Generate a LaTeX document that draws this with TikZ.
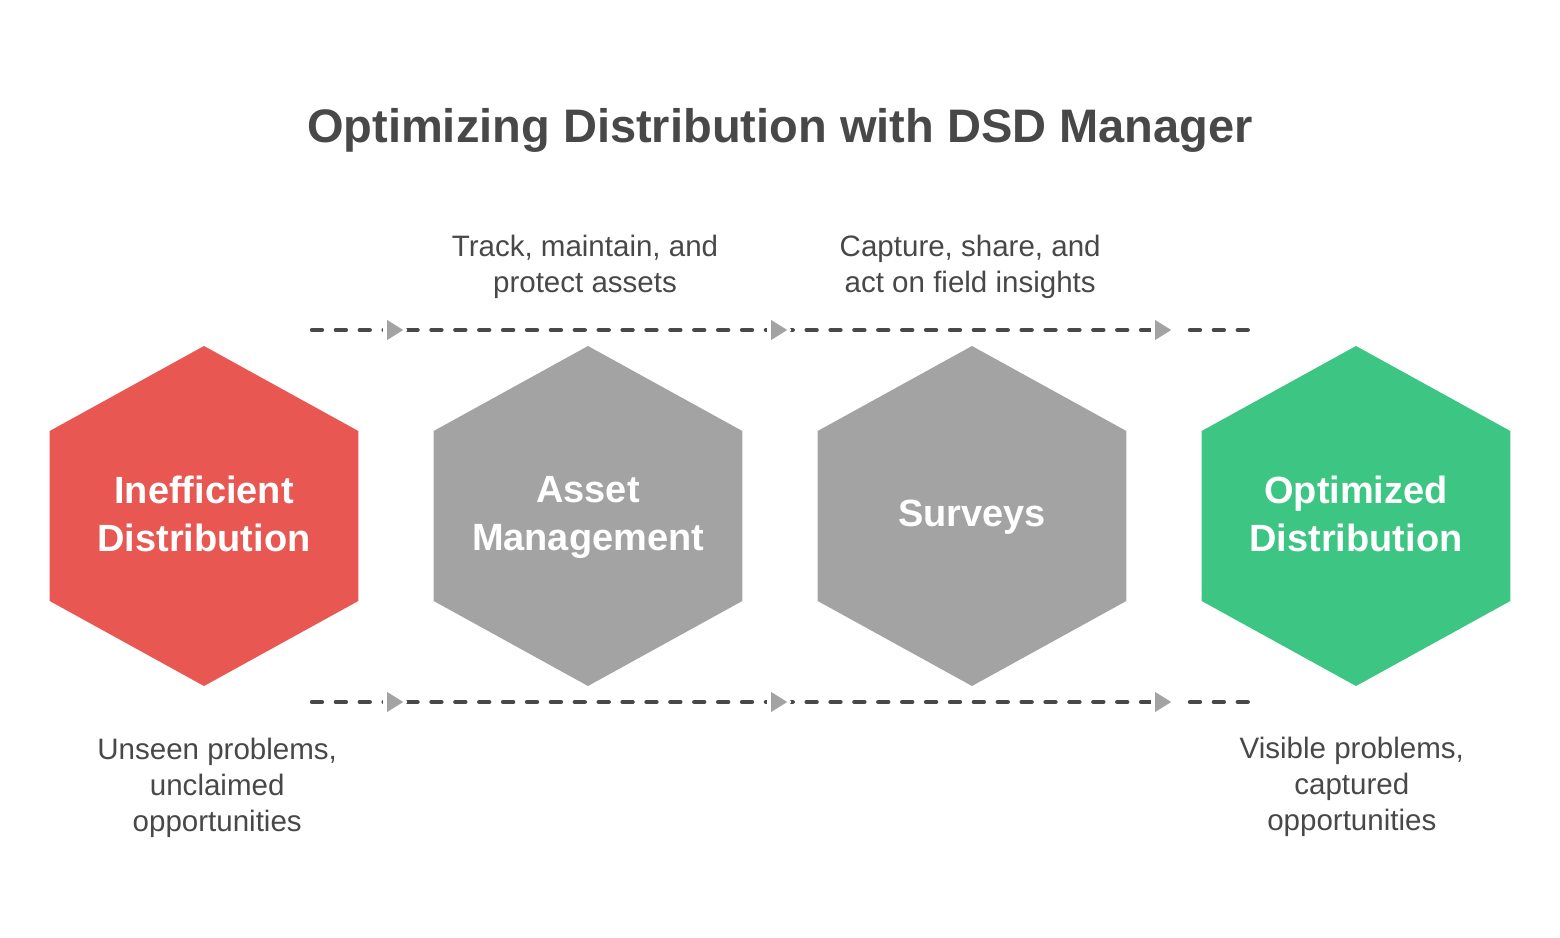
\documentclass[tikz,border=0pt]{standalone}
\usepackage{fontspec}
\setmainfont{Liberation Sans}
\usetikzlibrary{shapes.geometric,backgrounds,positioning}
\definecolor{inkgray}{HTML}{484848}
\definecolor{hexred}{HTML}{E85752}
\definecolor{hexgray}{HTML}{A3A3A3}
\definecolor{hexgreen}{HTML}{3CC583}
\tikzset{
  hexa/.style={regular polygon, regular polygon sides=6, shape border rotate=30,
    minimum size=5.667cm, inner sep=0pt, xscale=1.048},
  hexText/.style={text=white, align=center, text depth=0.25em,
    font=\bfseries\fontsize{18}{22.7}\selectfont},
  tip/.style={isosceles triangle, isosceles triangle apex angle=64, fill=hexgray,
    minimum height=0.267cm, inner sep=0pt, anchor=apex,
    preaction={draw=white, line width=0.133cm, line join=round}},
  dashline/.style={draw=inkgray, line width=2.1pt, line cap=round,
    dash pattern=on 4.72pt off 6.61pt},
  caption/.style={text=inkgray, align=center, font=\fontsize{14}{17}\selectfont}
}
\begin{document}
\begin{tikzpicture}[node distance = 6.4cm]
    \useasboundingbox (0,0) rectangle (26,15.617);
    % TITLE
    \node[text=inkgray, font=\bfseries\fontsize{22.3}{26}\selectfont] (title) at (13,13.45) {Optimizing Distribution with DSD Manager};

    % HEXAGONS
    \node[hexa, fill=hexred] (ineff) at (3.4,7.017) {};
    \node[hexa, fill=hexgray] (asset) at (9.8,7.017) {};
    \node[hexa, fill=hexgray] (survey) at (16.2,7.017) {};
    \node[hexa, fill=hexgreen] (optim) at (22.6,7.017) {};
    % hexagon texts
    \node[hexText] (ineffText) at (ineff) {Inefficient\\Distribution};
    \node[hexText, right of = ineffText] (assetText) {Asset\\Management};
    \node[hexText, right of = assetText] (surveyText) {Surveys};
    \node[hexText, right of = surveyText] (optimText) {Optimized\\Distribution};

    % CAPTIONS
    \node[caption] (assetCap) at (9.75,11.167) {Track, maintain, and\\protect assets};
    \node[caption] (surveyCap) at (16.17,11.167) {Capture, share, and\\act on field insights};
    \node[caption] (ineffCap) at (3.62,2.483) {Unseen problems,\\unclaimed\\opportunities};
    \node[caption] (optimCap) at (22.53,2.5) {Visible problems,\\captured\\opportunities};

    % TOP ROW
    \coordinate (topStart) at (5.2,10.117);
    \coordinate (topEnd) at (20.8,10.117);
    \coordinate (topLast) at (19.833,10.117);
    \node[tip] (topA) at (6.733,10.117) {};
    \node[tip] (topB) at (13.133,10.117) {};
    \node[tip] (topC) at (19.533,10.117) {};

    % BOTTOM ROW
    \coordinate (botStart) at (5.2,3.917);
    \coordinate (botEnd) at (20.8,3.917);
    \coordinate (botLast) at (19.833,3.917);
    \node[tip] (botA) at (6.733,3.917) {};
    \node[tip] (botB) at (13.133,3.917) {};
    \node[tip] (botC) at (19.533,3.917) {};

    % ARROWS
    \begin{pgfonlayer}{background}
      \draw[dashline] (topStart) -- (topB.lower side);
      \draw[dashline] ([xshift=0.2cm]topB.lower side) -- (topC.lower side);
      \draw[dashline] (topLast) -- (topEnd);
      \draw[dashline] (botStart) -- (botB.lower side);
      \draw[dashline] ([xshift=0.2cm]botB.lower side) -- (botC.lower side);
      \draw[dashline] (botLast) -- (botEnd);
    \end{pgfonlayer}
\end{tikzpicture}
\end{document}
